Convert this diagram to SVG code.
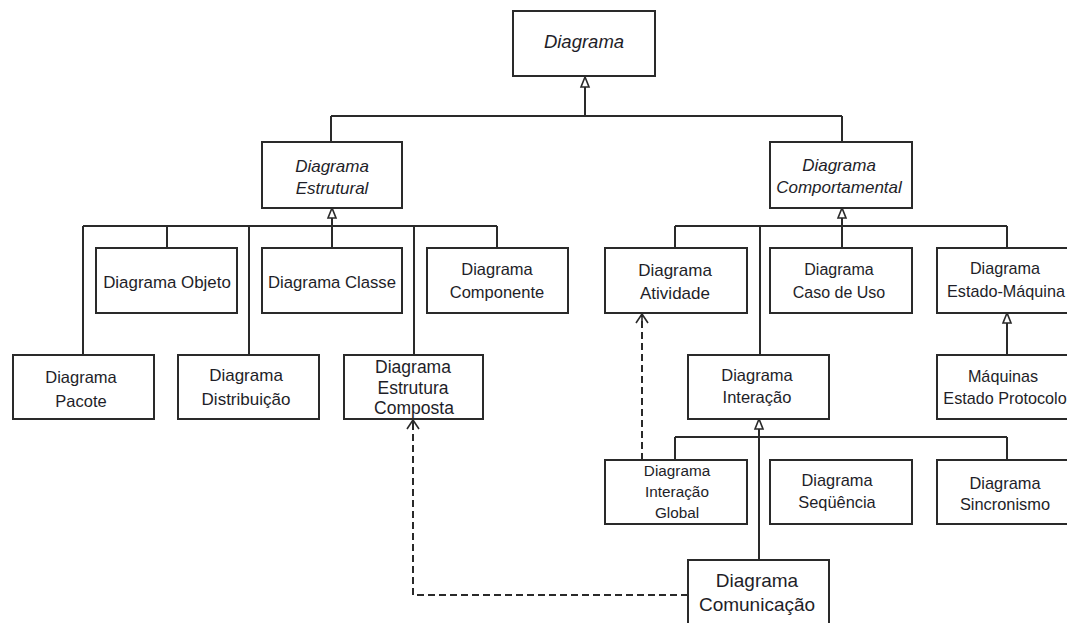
<svg xmlns="http://www.w3.org/2000/svg" width="1067" height="623" viewBox="0 0 1067 623">
  <style>
    .box { fill: #ffffff; stroke: #2a2a2a; stroke-width: 2; }
    .lbl { font-family: "Liberation Sans", Arial, sans-serif; font-size: 16.5px; fill: #1e1e28; text-anchor: middle; }
    .abs { font-style: italic; font-size: 17px; }
    .edge { fill: none; stroke: #2a2a2a; stroke-width: 2; }
    .dep { fill: none; stroke: #2a2a2a; stroke-width: 2; stroke-dasharray: 7 4; }
    .gen { fill: #ffffff; stroke: #2a2a2a; stroke-width: 1.6; stroke-linejoin: miter; }
    .open { fill: none; stroke: #2a2a2a; stroke-width: 1.6; }
  </style>
  <defs>
    <!-- hollow generalization head, tip at origin pointing up -->
    <path id="genHead" class="gen" d="M0,0 L-4,10 L4,10 Z"/>
    <!-- open dependency head, tip at origin pointing up -->
    <path id="depHead" class="open" d="M-6,9 L0,0 L6,9 M0,0 L0,9"/>
  </defs>
  <rect width="1067" height="623" fill="#ffffff"/>

  <g id="connectors">
    <!-- Diagrama specialisations -->
    <path class="edge" d="M585,87 V116 M331,116 H842 M331,116 V142 M842,116 V142"/>
    <use href="#genHead" x="585" y="77"/>
    <!-- structural family -->
    <path class="edge" d="M332,218 V248 M83,226 H497 M83,226 V355 M167,226 V248 M249,226 V355 M414,226 V355 M497,226 V248"/>
    <use href="#genHead" x="332" y="208"/>
    <!-- behavioural family -->
    <path class="edge" d="M842,218 V248 M675,226 H1007 M675,226 V248 M760,226 V355 M1007,226 V248"/>
    <use href="#genHead" x="842" y="208"/>
    <!-- protocol state machine -->
    <path class="edge" d="M1007,323 V355"/>
    <use href="#genHead" x="1007" y="313"/>
    <!-- interaction family -->
    <path class="edge" d="M759,429 V560 M675,437 H1007 M675,437 V460 M1007,437 V460"/>
    <use href="#genHead" x="759" y="419"/>
    <!-- dependencies -->
    <path class="dep" d="M642,460 V315"/>
    <use href="#depHead" x="642" y="314"/>
    <path class="dep" d="M688,595 H413 V421"/>
    <use href="#depHead" x="413" y="420"/>
  </g>

  <g id="diagrama">
    <rect class="box" x="513" y="11" width="142" height="65"/>
    <text class="lbl abs" x="584" y="48" style="font-size:18.5px">Diagrama</text>
  </g>
  <g id="diagrama-estrutural">
    <rect class="box" x="262" y="142" width="140" height="66"/>
    <text class="lbl abs" x="332" y="172">Diagrama</text>
    <text class="lbl abs" x="332" y="194">Estrutural</text>
  </g>
  <g id="diagrama-comportamental">
    <rect class="box" x="770" y="142" width="142" height="66"/>
    <text class="lbl abs" x="839" y="171">Diagrama</text>
    <text class="lbl abs" x="839" y="193">Comportamental</text>
  </g>
  <g id="diagrama-objeto">
    <rect class="box" x="96" y="248" width="141" height="65"/>
    <text class="lbl" x="167" y="288" style="font-size:16.9px">Diagrama Objeto</text>
  </g>
  <g id="diagrama-classe">
    <rect class="box" x="262" y="248" width="140" height="65"/>
    <text class="lbl" x="332" y="288" style="font-size:16.7px">Diagrama Classe</text>
  </g>
  <g id="diagrama-componente">
    <rect class="box" x="427" y="248" width="141" height="65"/>
    <text class="lbl" x="497" y="275">Diagrama</text>
    <text class="lbl" x="497" y="298">Componente</text>
  </g>
  <g id="diagrama-pacote">
    <rect class="box" x="13" y="355" width="141" height="64"/>
    <text class="lbl" x="81" y="383">Diagrama</text>
    <text class="lbl" x="81" y="407">Pacote</text>
  </g>
  <g id="diagrama-distribuicao">
    <rect class="box" x="178" y="355" width="141" height="64"/>
    <text class="lbl" x="246" y="381" style="font-size:17px">Diagrama</text>
    <text class="lbl" x="246" y="405" style="font-size:17px">Distribuição</text>
  </g>
  <g id="diagrama-estrutura-composta">
    <rect class="box" x="344" y="355" width="139" height="64"/>
    <text class="lbl" x="413" y="373" style="font-size:17.5px">Diagrama</text>
    <text class="lbl" x="413" y="394" style="font-size:17.5px">Estrutura</text>
    <text class="lbl" x="414" y="414" style="font-size:17.5px">Composta</text>
  </g>
  <g id="diagrama-atividade">
    <rect class="box" x="605" y="248" width="142" height="65"/>
    <text class="lbl" x="675" y="276" style="font-size:17px">Diagrama</text>
    <text class="lbl" x="675" y="299" style="font-size:17px">Atividade</text>
  </g>
  <g id="diagrama-caso-de-uso">
    <rect class="box" x="770" y="248" width="142" height="65"/>
    <text class="lbl" x="839" y="275" style="font-size:16px">Diagrama</text>
    <text class="lbl" x="839" y="298" style="font-size:16px">Caso de Uso</text>
  </g>
  <g id="diagrama-estado-maquina">
    <rect class="box" x="937" y="248" width="142" height="65"/>
    <text class="lbl" x="1005" y="274" style="font-size:16.2px">Diagrama</text>
    <text class="lbl" x="1006" y="297" style="font-size:16.2px">Estado-Máquina</text>
  </g>
  <g id="diagrama-interacao">
    <rect class="box" x="688" y="355" width="141" height="64"/>
    <text class="lbl" x="757" y="381">Diagrama</text>
    <text class="lbl" x="757" y="403">Interação</text>
  </g>
  <g id="maquinas-estado-protocolo">
    <rect class="box" x="937" y="355" width="142" height="64"/>
    <text class="lbl" x="1003" y="382" style="font-size:16.2px">Máquinas</text>
    <text class="lbl" x="1005" y="404" style="font-size:16.2px">Estado Protocolo</text>
  </g>
  <g id="diagrama-interacao-global">
    <rect class="box" x="605" y="460" width="142" height="64"/>
    <text class="lbl" x="677" y="476" style="font-size:15.3px">Diagrama</text>
    <text class="lbl" x="677" y="497" style="font-size:15.3px">Interação</text>
    <text class="lbl" x="677" y="518" style="font-size:15.3px">Global</text>
  </g>
  <g id="diagrama-sequencia">
    <rect class="box" x="770" y="460" width="142" height="64"/>
    <text class="lbl" x="837" y="486" style="font-size:16.4px">Diagrama</text>
    <text class="lbl" x="837" y="508" style="font-size:16.4px">Seqüência</text>
  </g>
  <g id="diagrama-sincronismo">
    <rect class="box" x="937" y="460" width="142" height="64"/>
    <text class="lbl" x="1005" y="489" style="font-size:16.4px">Diagrama</text>
    <text class="lbl" x="1005" y="510" style="font-size:16.4px">Sincronismo</text>
  </g>
  <g id="diagrama-comunicacao">
    <rect class="box" x="688" y="560" width="141" height="72"/>
    <text class="lbl" x="757" y="587" style="font-size:19px">Diagrama</text>
    <text class="lbl" x="757" y="611" style="font-size:19px">Comunicação</text>
  </g>
</svg>
